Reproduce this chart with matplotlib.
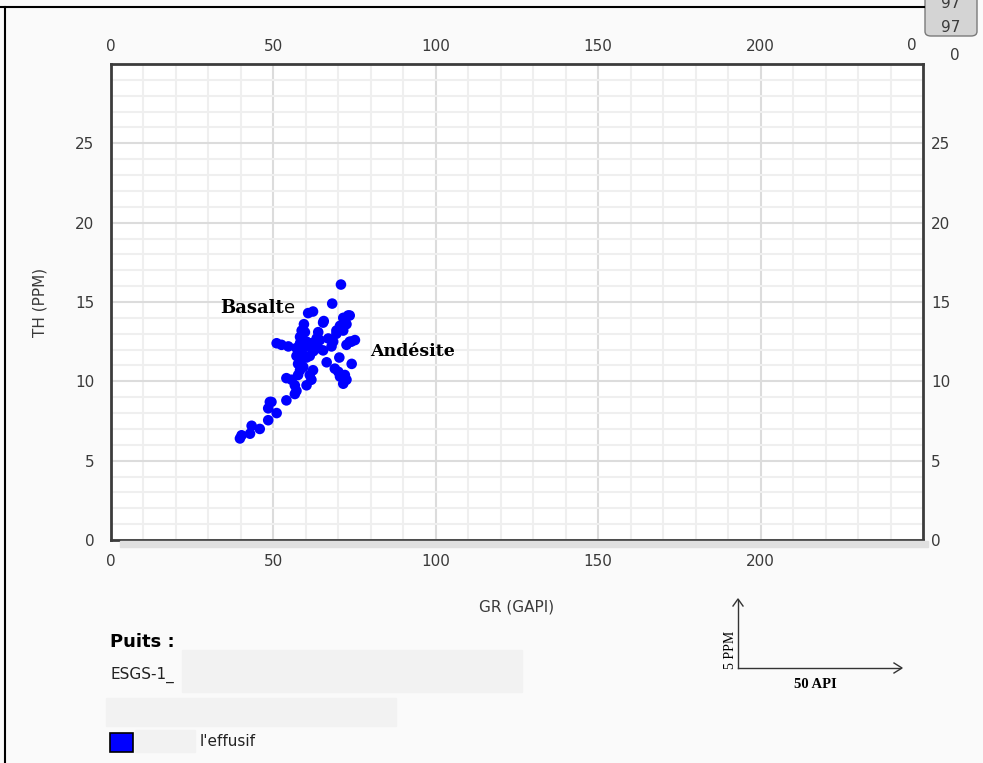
import matplotlib.pyplot as plt
from matplotlib.patches import Rectangle, FancyBboxPatch
from matplotlib.ticker import MultipleLocator

# GR (GAPI) vs TH (PPM) samples
gr = [70.8, 68.1, 60.7, 62.2, 65.5, 59.4, 73.5, 71.5, 72.5, 70.5, 69.4, 71.5,
      58.7, 59.7, 58.2, 63.8, 63.3, 64.3, 66.9, 68.4, 67.9, 75.1, 73.5, 72.5,
      51.0, 52.5, 54.6, 58.2, 57.1, 58.7, 60.2, 61.7, 62.3, 63.8, 57.1, 58.7,
      60.2, 57.6, 59.2, 61.2, 66.4, 70.3, 74.1, 68.9, 70.0, 70.5, 72.0, 71.5,
      72.5, 62.2, 61.2, 60.2, 61.7, 54.0, 55.6, 56.6, 57.1, 56.6, 58.2, 57.6,
      54.0, 48.9, 48.4, 51.0, 48.4, 45.8, 43.3, 42.8, 40.2, 39.7, 49.4, 65.3,
      63.3, 69.4, 65.3, 73.0, 74.0, 60.2]
th = [16.1, 14.9, 14.3, 14.4, 13.8, 13.6, 14.15, 14.0, 13.6, 13.5, 13.2, 13.2,
      13.2, 13.1, 12.8, 13.1, 12.7, 12.6, 12.7, 12.5, 12.2, 12.6, 12.5, 12.3,
      12.4, 12.3, 12.2, 12.4, 12.1, 11.9, 12.2, 12.4, 11.9, 12.1, 11.6, 11.4,
      11.5, 11.1, 10.9, 11.6, 11.2, 11.5, 11.1, 10.8, 10.6, 10.3, 10.4, 9.85,
      10.1, 10.7, 10.4, 9.75, 10.1, 10.2, 10.1, 9.75, 9.4, 9.2, 10.7, 10.4,
      8.8, 8.7, 8.3, 8.0, 7.55, 7.0, 7.2, 6.7, 6.6, 6.4, 8.7, 11.95,
      12.3, 13.0, 13.7, 14.15, 12.5, 12.5]

x_ticks = [0, 50, 100, 150, 200]
y_ticks = [0, 5, 10, 15, 20, 25]

W, H = 983, 763
fig = plt.figure(figsize=(W / 100, H / 100), dpi=100)
fig.patch.set_facecolor('#fafafa')

def fx(px):
    return px / W

def fy(py):
    return 1 - py / H

ax = fig.add_axes([fx(111), fy(540), fx(923) - fx(111), fy(64) - fy(540)])
ax.set_facecolor('white')
ax.set_xlim(0, 250)
ax.set_ylim(0, 30)

ax.xaxis.set_major_locator(MultipleLocator(50))
ax.xaxis.set_minor_locator(MultipleLocator(10))
ax.yaxis.set_major_locator(MultipleLocator(5))
ax.yaxis.set_minor_locator(MultipleLocator(1))
ax.grid(which='minor', color='#efefef', linewidth=1.5)
ax.grid(which='major', color='#dcdcdc', linewidth=1.5)
ax.set_axisbelow(True)

ax.set_xticks(x_ticks)
ax.set_yticks(y_ticks)
ax.tick_params(which='both', length=0, labelsize=11, colors='#3a3a3a')
ax.tick_params(axis='x', pad=10)
ax.tick_params(axis='y', pad=12)
for sp in ax.spines.values():
    sp.set_color('#3c3c3c')
    sp.set_linewidth(2)

top = ax.secondary_xaxis('top')
top.set_xticks(x_ticks)
top.tick_params(length=0, labelsize=11, colors='#3a3a3a', pad=7)
right = ax.secondary_yaxis('right')
right.set_yticks(y_ticks)
right.tick_params(length=0, labelsize=11, colors='#3a3a3a', pad=6)
for a in (top, right):
    for sp in a.spines.values():
        sp.set_visible(False)

ax.scatter(gr, th, s=58, color='#0000ff', edgecolors='none', zorder=3)

ax.text(33.5, 14.3, 'Basalt', family='DejaVu Serif', fontweight='bold',
        fontsize=13, color='black')
ax.text(53.3, 14.3, 'e', family='DejaVu Sans', fontsize=13, color='black')
ax.text(79.7, 11.6, 'Andésite', family='DejaVu Serif', fontweight='bold',
        fontsize=12.5, color='black')

ax.set_xlabel('GR (GAPI)', fontsize=11, color='#3a3a3a', labelpad=22)
ax.set_ylabel('TH (PPM)', fontsize=11, color='#3a3a3a', labelpad=20)

# shadow under the plot frame
fig.patches.append(Rectangle((fx(120), fy(547)), fx(928) - fx(120), fy(541) - fy(547),
                             transform=fig.transFigure, color='#e0e0e0', zorder=0))

# stray label at top right and the grey tab
fig.text(fx(912), fy(45), '0', fontsize=11, color='#3a3a3a', ha='center', va='center')
fig.patches.append(FancyBboxPatch((fx(925), fy(36)), fx(52), fy(0) - fy(36) + 0.02,
                                  boxstyle='round,pad=0,rounding_size=0.006',
                                  transform=fig.transFigure, facecolor='#d4d4d4',
                                  edgecolor='#7a7a7a', linewidth=1))
fig.text(fx(951), fy(27), '97', fontsize=11, color='#3a3a3a', ha='center', va='center')
fig.text(fx(951), fy(3), '97', fontsize=11, color='#3a3a3a', ha='center', va='center')
fig.text(fx(955), fy(56), '0', fontsize=11, color='#3a3a3a', ha='center', va='center')

# outer frame lines
fig.add_artist(plt.Line2D([0, fx(924)], [fy(7), fy(7)], color='black', lw=1.5))
fig.add_artist(plt.Line2D([fx(5), fx(5)], [fy(7), 0], color='black', lw=1.5))

# legend area
fig.text(fx(110), fy(642), 'Puits :', fontsize=13, fontweight='bold', color='black',
         va='center')
fig.patches.append(Rectangle((fx(182), fy(692)), fx(522) - fx(182), fy(650) - fy(692),
                             transform=fig.transFigure, color='#f2f2f2'))
fig.text(fx(110), fy(675), 'ESGS-1_', fontsize=11, color='#222222', va='center')
fig.patches.append(Rectangle((fx(106), fy(726)), fx(396) - fx(106), fy(698) - fy(726),
                             transform=fig.transFigure, color='#f2f2f2'))
fig.patches.append(Rectangle((fx(135), fy(752)), fx(195) - fx(135), fy(730) - fy(752),
                             transform=fig.transFigure, color='#f2f2f2'))
fig.patches.append(Rectangle((fx(110), fy(752)), fx(133) - fx(110), fy(733) - fy(752),
                             transform=fig.transFigure, facecolor='#0000ff',
                             edgecolor='black', linewidth=1.2))
fig.text(fx(200), fy(742), "l'effusif", fontsize=11, color='#222222', va='center')

# scale arrows
fig.add_artist(plt.Line2D([fx(738), fx(738)], [fy(668), fy(600)], color='#333333', lw=1))
fig.add_artist(plt.Line2D([fx(738), fx(900)], [fy(668), fy(668)], color='#333333', lw=1))
fig.add_artist(plt.Line2D([fx(733), fx(738), fx(743)], [fy(606), fy(599), fy(606)],
                          color='#333333', lw=1))
fig.add_artist(plt.Line2D([fx(894), fx(902), fx(894)], [fy(663), fy(668), fy(673)],
                          color='#333333', lw=1))
fig.text(fx(730), fy(650), '5 PPM', family='Liberation Serif', fontsize=10,
         rotation=90, ha='center', va='center', color='black')
fig.text(fx(815), fy(685), '50 API', family='Liberation Serif', fontsize=10.5,
         fontweight='bold', ha='center', va='center', color='black')

fig.savefig('out.png', dpi=100, facecolor=fig.get_facecolor())
